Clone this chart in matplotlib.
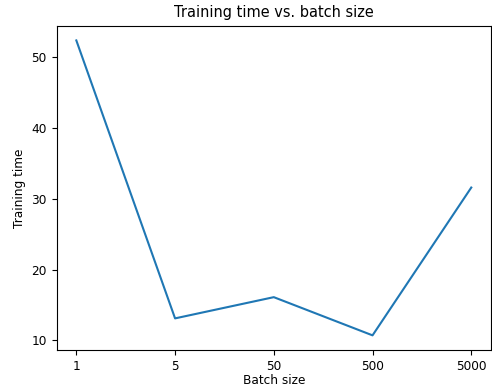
import matplotlib
matplotlib.use("Agg")
from matplotlib import pyplot as plt

# Batch sizes tried and the training time for each
batch_labels = ['1', '5', '50', '500', '5000']
training_time = [52.4, 13.1, 16.1, 10.7, 31.6]

plt.rcParams['font.size'] = 8.7

fig = plt.figure(figsize=(4.92, 3.89), dpi=100)
ax = fig.add_axes([0.115, 0.100, 0.883, 0.834])

positions = range(len(batch_labels))
ax.plot(positions, training_time)
ax.set_xticks(positions)
ax.set_xticklabels(batch_labels)
ax.set_yticks([10, 20, 30, 40, 50])

ax.set_xlabel('Batch size', labelpad=1)
ax.set_ylabel('Training time')
ax.set_title('Training time vs. batch size')

fig.savefig('out.png', dpi=100)
